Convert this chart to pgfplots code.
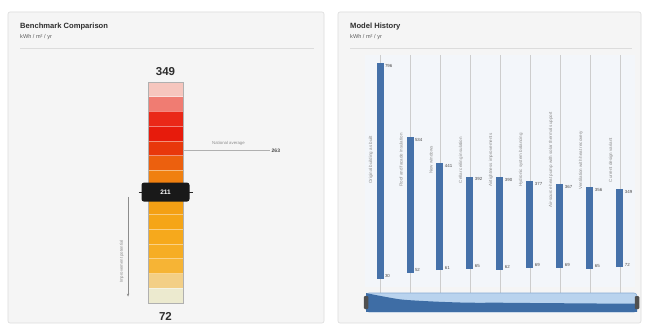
\documentclass[border=0pt]{standalone}
\usepackage{pgfplots}
\pgfplotsset{compat=1.18}
\usepackage{pgfplotstable}
\usepackage{fontspec}
\setmainfont{Liberation Sans}
\usetikzlibrary{arrows.meta}

\definecolor{panelbg}{HTML}{F5F5F5}
\definecolor{panelline}{HTML}{DCDCDC}
\definecolor{titletext}{HTML}{2E2E2E}
\definecolor{subtext}{HTML}{5A5A5A}
\definecolor{labeltext}{HTML}{8C8C8C}
\definecolor{valuetext}{HTML}{4A4A4A}
\definecolor{gaugeframe}{HTML}{B0B0B0}
\definecolor{barblue}{HTML}{4571A9}
\definecolor{gridgray}{HTML}{CDCDCD}
\definecolor{plotbg}{HTML}{F3F6FA}
\definecolor{navlight}{HTML}{B9D3EE}
\definecolor{navedge}{HTML}{86ABD3}
\definecolor{navdark}{HTML}{3E6DA5}
\definecolor{handle}{HTML}{505050}

% gauge segment colours, bottom to top
\definecolor{g1}{HTML}{ECEACF}
\definecolor{g2}{HTML}{F3CF86}
\definecolor{g3}{HTML}{F6B435}
\definecolor{g4}{HTML}{F6AD24}
\definecolor{g5}{HTML}{F6A91C}
\definecolor{g6}{HTML}{F5A517}
\definecolor{g7}{HTML}{F4A014}
\definecolor{g8}{HTML}{F39412}
\definecolor{g9}{HTML}{F08010}
\definecolor{g10}{HTML}{EC600E}
\definecolor{g11}{HTML}{E8380C}
\definecolor{g12}{HTML}{E71B0C}
\definecolor{g13}{HTML}{EA2818}
\definecolor{g14}{HTML}{F07C72}
\definecolor{g15}{HTML}{F6C6BE}

% model history: lower and upper bound per variant
\pgfplotstableread{
x lo hi
0 30 796
1 52 534
2 61 441
3 65 392
4 62 390
5 69 377
6 69 367
7 65 356
8 72 349
}\modeltable

\tikzset{
  ttl/.style={font=\bfseries\fontsize{7.6}{9}\selectfont, text=titletext, anchor=base west, inner sep=0pt},
  sub/.style={font=\fontsize{5.6}{7}\selectfont, text=subtext, anchor=base west, inner sep=0pt},
  catlabel/.style={rotate=90, font=\fontsize{4.5}{5}\selectfont, text=labeltext, inner sep=0pt},
}

\begin{document}
\begin{tikzpicture}[x=1pt,y=1pt]
\fill[white] (0pt,0pt) rectangle (649pt,-326pt);

% panels
\filldraw[fill=panelbg, draw=panelline, line width=0.6pt, rounded corners=2pt] (8pt,-12pt) rectangle (324pt,-323pt);
\filldraw[fill=panelbg, draw=panelline, line width=0.6pt, rounded corners=2pt] (338pt,-12pt) rectangle (641pt,-323pt);

\node[ttl] at (20pt,-29pt) {Benchmark Comparison};
\node[sub] at (20pt,-39pt) {kWh / m² / yr};
\draw[panelline, line width=0.6pt] (20pt,-48pt) -- (314pt,-48pt);

\node[ttl] at (350pt,-29pt) {Model History};
\node[sub] at (350pt,-39pt) {kWh / m² / yr};
\draw[panelline, line width=0.6pt] (350pt,-48pt) -- (632pt,-48pt);

% ---------- benchmark gauge ----------
\begin{axis}[
  at={(148pt,-303pt)}, anchor=south west, scale only axis,
  width=35pt, height=221pt,
  xmin=0, xmax=1, ymin=72, ymax=349,
  axis on top, clip=false,
  xtick=\empty,
  ytick={90.47,108.93,127.40,145.87,164.33,182.80,201.27,219.73,238.20,256.67,275.13,293.60,312.07,330.53},
  yticklabels={}, major tick length=0pt,
  ymajorgrids, grid style={white, line width=0.6pt, opacity=0.45},
  axis line style={gaugeframe, line width=0.6pt},
]
\addplot[fill=g1, draw=none] coordinates {(0,72) (1,72) (1,90.47) (0,90.47)} -- cycle;
\addplot[fill=g2, draw=none] coordinates {(0,90.47) (1,90.47) (1,108.93) (0,108.93)} -- cycle;
\addplot[fill=g3, draw=none] coordinates {(0,108.93) (1,108.93) (1,127.40) (0,127.40)} -- cycle;
\addplot[fill=g4, draw=none] coordinates {(0,127.40) (1,127.40) (1,145.87) (0,145.87)} -- cycle;
\addplot[fill=g5, draw=none] coordinates {(0,145.87) (1,145.87) (1,164.33) (0,164.33)} -- cycle;
\addplot[fill=g6, draw=none] coordinates {(0,164.33) (1,164.33) (1,182.80) (0,182.80)} -- cycle;
\addplot[fill=g7, draw=none] coordinates {(0,182.80) (1,182.80) (1,201.27) (0,201.27)} -- cycle;
\addplot[fill=g8, draw=none] coordinates {(0,201.27) (1,201.27) (1,219.73) (0,219.73)} -- cycle;
\addplot[fill=g9, draw=none] coordinates {(0,219.73) (1,219.73) (1,238.20) (0,238.20)} -- cycle;
\addplot[fill=g10, draw=none] coordinates {(0,238.20) (1,238.20) (1,256.67) (0,256.67)} -- cycle;
\addplot[fill=g11, draw=none] coordinates {(0,256.67) (1,256.67) (1,275.13) (0,275.13)} -- cycle;
\addplot[fill=g12, draw=none] coordinates {(0,275.13) (1,275.13) (1,293.60) (0,293.60)} -- cycle;
\addplot[fill=g13, draw=none] coordinates {(0,293.60) (1,293.60) (1,312.07) (0,312.07)} -- cycle;
\addplot[fill=g14, draw=none] coordinates {(0,312.07) (1,312.07) (1,330.53) (0,330.53)} -- cycle;
\addplot[fill=g15, draw=none] coordinates {(0,330.53) (1,330.53) (1,349) (0,349)} -- cycle;

% scale ends
\node[anchor=base, font=\bfseries\fontsize{11.5}{12}\selectfont, text=titletext, yshift=6pt] at (axis cs:0.5,349) {349};
\node[anchor=base, font=\bfseries\fontsize{11.5}{12}\selectfont, text=titletext, yshift=-18pt] at (axis cs:0.5,72) {72};

% reference value
\addplot[gaugeframe, line width=0.5pt] coordinates {(1,263) (3.49,263)};
\node[anchor=south, font=\fontsize{4.3}{5}\selectfont, text=labeltext, yshift=1.5pt] at (axis cs:2.3,263) {National average};
\node[anchor=west, font=\bfseries\fontsize{5}{6}\selectfont, text=valuetext, inner sep=1pt] at (axis cs:3.5,263) {263};

% savings arrow to the best value
\addplot[labeltext, line width=0.4pt, -{Stealth[length=3pt,width=2.4pt]}] coordinates {(-0.57,205) (-0.57,80)};
\node[rotate=90, font=\fontsize{4.3}{5}\selectfont, text=labeltext] at (axis cs:-0.75,124) {Improvement potential};

\coordinate (mk) at (axis cs:0.5,211);
\end{axis}

% current value marker
\draw[black!85, line width=0.8pt] ([xshift=-27pt]mk) -- ([xshift=27pt]mk);
\node[fill=black!90, rounded corners=2.5pt, minimum width=48pt, minimum height=19pt, inner sep=0pt,
      text=white, font=\bfseries\fontsize{6.5}{7}\selectfont] at (mk) {211};

% ---------- model history ----------
\begin{axis}[
  at={(365pt,-287.3pt)}, anchor=south west, scale only axis,
  width=270pt, height=232.3pt,
  xmin=-0.5, xmax=8.5, ymin=0, ymax=825,
  clip=false,
  axis line style={draw=none},
  axis background/.style={fill=plotbg},
  xtick={0,...,8}, xticklabels={}, ytick=\empty,
  xtick pos=bottom, tick align=outside, major tick length=6pt,
  tick style={gridgray, line width=0.5pt},
  xmajorgrids, grid style={gridgray, line width=0.5pt},
  /pgf/number format/assume math mode=true,
]
% bars spanning lower to upper bound
\addplot[draw=none, mark=none,
  error bars/.cd, y dir=plus, y explicit, error mark=none,
  error bar style={line width=7pt, draw=barblue}]
  table[x=x, y=lo, y error expr=\thisrow{hi}-\thisrow{lo}] {\modeltable};

% upper values
\addplot[draw=none, mark=none, point meta=explicit,
  nodes near coords={\pgfmathprintnumber[fixed,precision=0]{\pgfplotspointmeta}},
  nodes near coords style={anchor=north west, font=\fontsize{4.4}{5}\selectfont, text=valuetext, inner sep=0.8pt, xshift=4pt}]
  table[x=x, y=hi, meta=hi] {\modeltable};
% lower values
\addplot[draw=none, mark=none, point meta=explicit,
  nodes near coords={\pgfmathprintnumber[fixed,precision=0]{\pgfplotspointmeta}},
  nodes near coords style={anchor=south west, font=\fontsize{4.4}{5}\selectfont, text=valuetext, inner sep=0.8pt, xshift=4pt}]
  table[x=x, y=lo, meta=lo] {\modeltable};

% variant names
\node[catlabel] at (axis cs:-0.3,452) {Original building as built};
\node[catlabel] at (axis cs:0.7,452) {Roof and facade insulation};
\node[catlabel] at (axis cs:1.7,452) {New windows};
\node[catlabel] at (axis cs:2.7,452) {Cellar ceiling insulation};
\node[catlabel] at (axis cs:3.7,452) {Airtightness improvements};
\node[catlabel] at (axis cs:4.7,452) {Hydronic system balancing};
\node[catlabel] at (axis cs:5.7,452) {Air-source heat pump with solar thermal support};
\node[catlabel] at (axis cs:6.7,452) {Ventilation with heat recovery};
\node[catlabel] at (axis cs:7.7,452) {Current design variant};
\end{axis}

% navigator strip
\begin{axis}[
  at={(366pt,-312pt)}, anchor=south west, scale only axis,
  width=271pt, height=19pt,
  xmin=0, xmax=8, ymin=0, ymax=800,
  axis line style={draw=none}, xtick=\empty, ytick=\empty,
  clip=false,
]
\filldraw[fill=navlight, draw=navedge, line width=0.6pt, rounded corners=3pt]
  (rel axis cs:0,0) rectangle (rel axis cs:1,1);
\addplot[fill=navdark, draw=none, smooth, tension=0.4] table[x=x, y=hi] {\modeltable} |- (axis cs:0,0) -- cycle;
\node[fill=handle, rounded corners=1pt, minimum width=4.5pt, minimum height=13pt, inner sep=0pt] at (rel axis cs:0,0.5) {};
\node[fill=handle, rounded corners=1pt, minimum width=4.5pt, minimum height=13pt, inner sep=0pt] at (rel axis cs:1,0.5) {};
\end{axis}
\end{tikzpicture}
\end{document}
